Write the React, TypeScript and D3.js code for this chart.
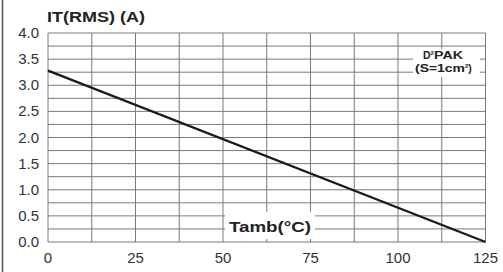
import React, { useEffect, useRef } from "react";
import * as d3 from "d3";

// curve: straight derating from 0 °C down to 125 °C
const tamb = [0, 125];
const itRms = [3.28, 0];

const xTicks = [0, 25, 50, 75, 100, 125];
const yTicks = [0, 0.5, 1, 1.5, 2, 2.5, 3, 3.5, 4];

const width = 503;
const height = 272;

export default function App() {
  const ref = useRef<SVGSVGElement>(null);

  useEffect(() => {
    const svg = d3.select(ref.current);
    svg.selectAll("*").remove();

    const x = d3.scaleLinear().domain([0, 125]).range([48, 485.5]);
    const y = d3.scaleLinear().domain([0, 4]).range([242, 33]);

    svg.append("rect").attr("width", width).attr("height", height).attr("fill", "#fff");

    // frame edge on the left of the picture
    svg
      .append("line")
      .attr("x1", 2.5)
      .attr("x2", 2.5)
      .attr("y1", 0)
      .attr("y2", height)
      .attr("stroke", "#555")
      .attr("stroke-width", 1.5);

    const grid = svg.append("g").attr("stroke", "#7a7a7a").attr("stroke-width", 1);

    // vertical grid every 12.5 °C
    grid
      .selectAll("line.v")
      .data(d3.range(0, 125.1, 12.5))
      .enter()
      .append("line")
      .attr("x1", (d) => x(d))
      .attr("x2", (d) => x(d))
      .attr("y1", y(4))
      .attr("y2", y(0));

    // horizontal grid every 0.25 A
    grid
      .selectAll("line.h")
      .data(d3.range(0, 4.01, 0.25))
      .enter()
      .append("line")
      .attr("x1", x(0))
      .attr("x2", x(125))
      .attr("y1", (d) => y(d))
      .attr("y2", (d) => y(d));

    const line = d3
      .line<number>()
      .x((d, i) => x(tamb[i]))
      .y((d) => y(d));

    svg
      .append("path")
      .attr("d", line(itRms))
      .attr("fill", "none")
      .attr("stroke", "#1a1a1a")
      .attr("stroke-width", 2.2);

    const font = "Liberation Sans, Arial, sans-serif";

    svg
      .selectAll("text.ytick")
      .data(yTicks)
      .enter()
      .append("text")
      .attr("x", 39)
      .attr("y", (d) => y(d) + 5)
      .attr("text-anchor", "end")
      .style("font-family", font)
      .style("font-size", "15px")
      .attr("fill", "#333")
      .text((d) => d.toFixed(1));

    svg
      .selectAll("text.xtick")
      .data(xTicks)
      .enter()
      .append("text")
      .attr("x", (d) => x(d))
      .attr("y", 263)
      .attr("text-anchor", "middle")
      .style("font-family", font)
      .style("font-size", "15px")
      .attr("fill", "#333")
      .text((d) => String(d));

    svg
      .append("text")
      .attr("x", 47)
      .attr("y", 22)
      .attr("textLength", 98)
      .attr("lengthAdjust", "spacingAndGlyphs")
      .style("font-family", font)
      .style("font-size", "14px")
      .style("font-weight", "bold")
      .attr("fill", "#222")
      .text("IT(RMS) (A)");

    // x axis title with white box behind it
    svg.append("rect").attr("x", 225).attr("y", 212).attr("width", 90).attr("height", 27).attr("fill", "#fff");
    svg
      .append("text")
      .attr("x", 229)
      .attr("y", 232)
      .attr("textLength", 82)
      .attr("lengthAdjust", "spacingAndGlyphs")
      .style("font-family", font)
      .style("font-size", "15px")
      .style("font-weight", "bold")
      .attr("fill", "#222")
      .text("Tamb(°C)");

    // package note
    svg.append("rect").attr("x", 413).attr("y", 49).attr("width", 67).attr("height", 28).attr("fill", "#fff");
    const pkg = svg
      .append("text")
      .attr("x", 423)
      .attr("y", 59)
      .style("font-family", font)
      .style("font-size", "10.5px")
      .style("font-weight", "bold")
      .attr("fill", "#222");
    pkg.append("tspan").text("D");
    pkg.append("tspan").attr("dy", -4).style("font-size", "6px").text("2");
    pkg.append("tspan").attr("dy", 4).attr("textLength", 29).attr("lengthAdjust", "spacingAndGlyphs").text("PAK");

    const s = svg
      .append("text")
      .attr("x", 415)
      .attr("y", 72)
      .style("font-family", font)
      .style("font-size", "10.5px")
      .style("font-weight", "bold")
      .attr("fill", "#222");
    s.append("tspan").attr("textLength", 50).attr("lengthAdjust", "spacingAndGlyphs").text("(S=1cm");
    s.append("tspan").attr("dy", -4).style("font-size", "6px").text("2");
    s.append("tspan").attr("dy", 4).text(")");
  }, []);

  return (
    <svg
      ref={ref}
      width={width}
      height={height}
      style={{ position: "absolute", left: 0, top: 0 }}
    />
  );
}
